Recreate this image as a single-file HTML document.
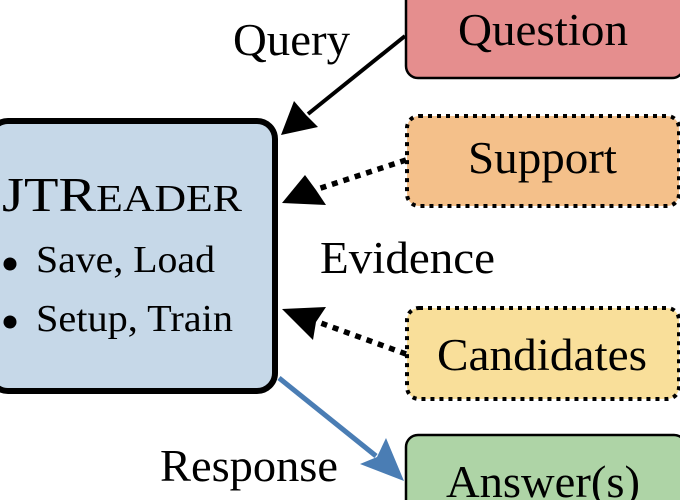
<!DOCTYPE html>
<html><head><style>body{margin:0;background:#fff}svg{display:block}text{font-family:"Liberation Serif",serif;fill:#000}</style></head>
<body>
<svg width="680" height="500" viewBox="0 0 680 500" xmlns="http://www.w3.org/2000/svg">
<rect x="-10" y="121" width="285" height="270" rx="18" fill="#c6d8e8" stroke="#000" stroke-width="6"/>
<rect x="406" y="-12" width="278" height="90" rx="12" fill="#e58e8e" stroke="#000" stroke-width="2.5"/>
<rect x="407" y="116" width="272" height="90" rx="12" fill="#f4c08a" stroke="#000" stroke-width="4" stroke-dasharray="4 5"/>
<rect x="407" y="308" width="272" height="91" rx="12" fill="#f9df9a" stroke="#000" stroke-width="4" stroke-dasharray="4 5"/>
<rect x="406" y="435" width="280" height="80" rx="12" fill="#aed4a6" stroke="#000" stroke-width="2.5"/>
<line x1="405" y1="36" x2="308" y2="114" stroke="#000" stroke-width="4"/>
<path d="M281,135 L294,101 L306,115 L318,127 Z" fill="#000"/>
<line x1="406" y1="160" x2="318" y2="189" stroke="#000" stroke-width="5.5" stroke-dasharray="6 6"/>
<path d="M282,203 L305,175 L316,190 L326,205 Z" fill="#000"/>
<line x1="406" y1="354" x2="318" y2="322" stroke="#000" stroke-width="5.5" stroke-dasharray="6 6"/>
<path d="M282,309 L326,307 L316,322 L313,340 Z" fill="#000"/>
<line x1="279" y1="378" x2="376" y2="456" stroke="#4a7db4" stroke-width="5"/>
<path d="M404,481 L360,464 L377,457 L386,438 Z" fill="#4a7db4"/>
<text x="233" y="55" font-size="45" textLength="117" lengthAdjust="spacingAndGlyphs">Query</text>
<text x="320" y="273" font-size="45" textLength="175" lengthAdjust="spacingAndGlyphs">Evidence</text>
<text x="160" y="481" font-size="45" textLength="178" lengthAdjust="spacingAndGlyphs">Response</text>
<text x="458" y="45" font-size="45" textLength="170" lengthAdjust="spacingAndGlyphs">Question</text>
<text x="468" y="173" font-size="45" textLength="149" lengthAdjust="spacingAndGlyphs">Support</text>
<text x="437" y="370" font-size="45" textLength="210" lengthAdjust="spacingAndGlyphs">Candidates</text>
<text x="446" y="497" font-size="45" textLength="194" lengthAdjust="spacingAndGlyphs">Answer(s)</text>
<text x="2" y="211" font-size="49" textLength="240" lengthAdjust="spacingAndGlyphs">JTR<tspan font-size="38">EADER</tspan></text>
<circle cx="10" cy="264" r="6.5" fill="#000"/>
<circle cx="10" cy="322" r="6.5" fill="#000"/>
<text x="36" y="272" font-size="38" textLength="179" lengthAdjust="spacingAndGlyphs">Save, Load</text>
<text x="36" y="331" font-size="38" textLength="197" lengthAdjust="spacingAndGlyphs">Setup, Train</text>
</svg>
</body></html>
